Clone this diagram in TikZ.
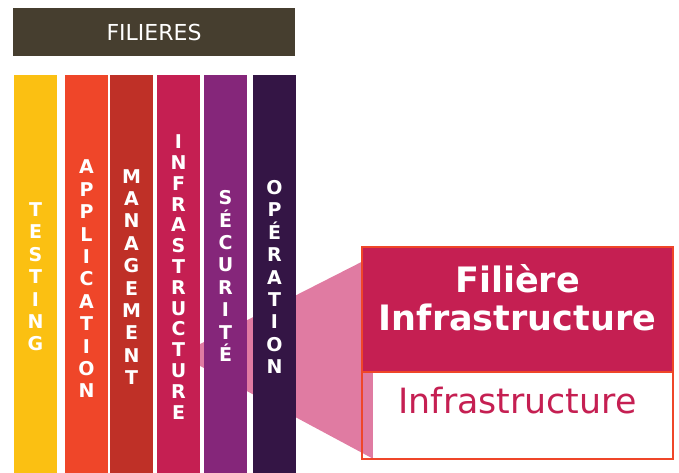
\documentclass[tikz,border=0pt]{standalone}
\usepackage{fontspec}
\setmainfont{DejaVu Sans}
\usetikzlibrary{positioning, calc, backgrounds}

\definecolor{hdrbrown}{HTML}{463E2F}
\definecolor{ctest}{HTML}{FBC012}
\definecolor{cappli}{HTML}{EF4629}
\definecolor{cmgmt}{HTML}{BF3027}
\definecolor{cinfra}{HTML}{C51F52}
\definecolor{csecu}{HTML}{85267A}
\definecolor{coper}{HTML}{341545}
\definecolor{cfunnel}{HTML}{E07BA2}

\begin{document}
\begin{tikzpicture}[x=1pt, y=-1pt,
  hdr/.style={rectangle, fill=hdrbrown, text=white, inner sep=0pt, minimum width=282pt, minimum height=48pt, font=\fontsize{22}{26}\selectfont},
  bar/.style={rectangle, inner sep=0pt, minimum width=43pt, minimum height=398pt},
  vtxt/.style={align=center, inner sep=0pt, text=white, font=\bfseries\fontsize{19}{22.4}\selectfont},
  head/.style={rectangle, fill=cinfra, inner sep=0pt, minimum width=311pt, minimum height=125pt},
  body/.style={rectangle, fill=white, inner sep=0pt, minimum width=300pt, minimum height=86pt},
  ttl/.style={align=center, inner sep=0pt, text=white, font=\bfseries\fontsize{35}{38}\selectfont},
  sub/.style={inner sep=0pt, text=cinfra, font=\fontsize{34.8}{40}\selectfont},
  frame/.style={draw=cappli, line width=2pt},
  funnel/.style={fill=cfunnel}]
  \useasboundingbox (0,0) rectangle (679,473);

  % header
  \node[hdr] (filieres) at (154,32) {FILIERES};

  % the six bars
  \node[bar, fill=ctest]  (testing) at (35.5,274) {};
  \node[bar, fill=cappli] (appli)   at (86.5,274) {};
  \node[bar, fill=cmgmt]  (mgmt)    at (131.5,274) {};
  \node[bar, fill=cinfra] (infra)   at (178.5,274) {};
  \node[bar, fill=csecu]  (secu)    at (225.5,274) {};
  \node[bar, fill=coper]  (oper)    at (274.5,274) {};

  \node[vtxt] (testingtxt) at ([yshift=-3pt]testing.center) {T\\E\\S\\T\\I\\N\\G};
  \node[vtxt] (applitxt) at ([yshift=-5pt]appli.center) {A\\P\\P\\L\\I\\C\\A\\T\\I\\O\\N};
  \node[vtxt] (mgmttxt) at ([yshift=-3pt]mgmt.center) {M\\A\\N\\A\\G\\E\\M\\E\\N\\T};
  \node[vtxt, font=\bfseries\fontsize{19}{20.8}\selectfont] (infratxt) at ([yshift=-3pt]infra.center) {I\\N\\F\\R\\A\\S\\T\\R\\U\\C\\T\\U\\R\\E};
  \node[vtxt] (secutxt) at ([yshift=-2pt]secu.center) {S\\É\\C\\U\\R\\I\\T\\É};
  \node[vtxt] (opertxt) at ([yshift=-3pt]oper.center) {O\\P\\É\\R\\A\\T\\I\\O\\N};

  % zoomed box
  \node[head] (head) at (517.5,309.5) {};
  \node[body, anchor=north east] (body) at (head.south east) {};
  \node[ttl] (title) at ([yshift=12pt]head.center) {Filière\\Infrastructure};
  \node[sub] (subtxt) at ([xshift=-5.5pt, yshift=15pt]body.center) {Infrastructure};
  \draw[frame] (head.north west) rectangle (body.south east);
  \draw[frame] (head.south west) -- (head.south east);

  \begin{scope}[on background layer]
    \fill[funnel] ($(infra.east)+(0,70)$) -- ($(head.north west)+(0,15)$)
      -- (body.north west) -- (body.south west) -- ($(infra.east)+(0,92)$) -- cycle;
  \end{scope}
\end{tikzpicture}
\end{document}
